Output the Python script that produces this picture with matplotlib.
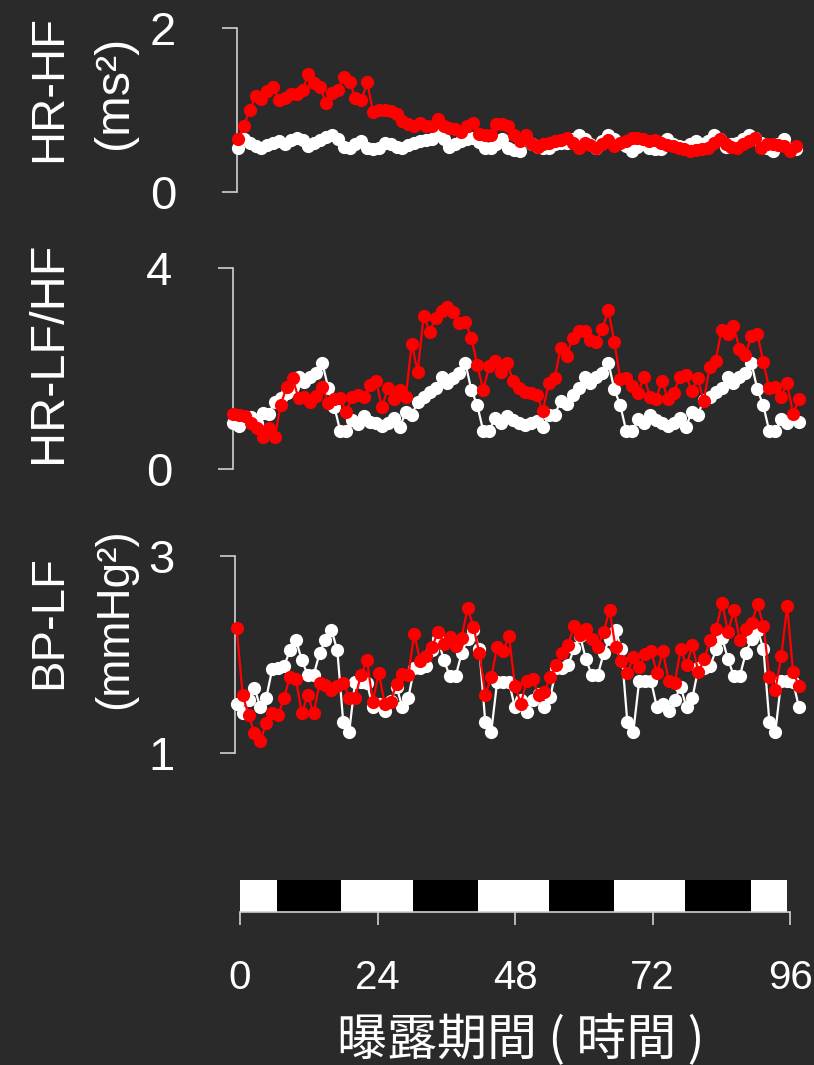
import matplotlib
matplotlib.use("Agg")
import matplotlib.pyplot as plt

# ---------------- data (hourly, 96 points each) ----------------
hrhf_white = [0.54, 0.64, 0.59, 0.56, 0.54, 0.57, 0.59, 0.62, 0.58, 0.63, 0.66, 0.63,
              0.56, 0.59, 0.63, 0.67, 0.70, 0.64, 0.55, 0.54, 0.58, 0.62, 0.54, 0.52,
              0.53, 0.60, 0.58, 0.55, 0.54, 0.57, 0.60, 0.62, 0.63, 0.64, 0.69, 0.64,
              0.55, 0.58, 0.62, 0.64, 0.66, 0.61, 0.54, 0.53, 0.58, 0.65, 0.53, 0.51,
              0.50, 0.64, 0.58, 0.55, 0.54, 0.54, 0.58, 0.60, 0.60, 0.64, 0.69, 0.65,
              0.58, 0.54, 0.62, 0.70, 0.65, 0.60, 0.56, 0.50, 0.55, 0.58, 0.54, 0.52,
              0.52, 0.64, 0.58, 0.56, 0.55, 0.58, 0.62, 0.58, 0.62, 0.69, 0.65, 0.55,
              0.58, 0.60, 0.65, 0.70, 0.66, 0.60, 0.54, 0.50, 0.58, 0.64, 0.52, 0.52]
hrhf_red = [0.64, 0.81, 1.00, 1.17, 1.14, 1.23, 1.28, 1.12, 1.15, 1.20, 1.19, 1.25,
            1.44, 1.33, 1.28, 1.08, 1.21, 1.25, 1.40, 1.34, 1.15, 1.12, 1.34, 0.97,
            1.00, 1.00, 0.99, 0.95, 0.87, 0.83, 0.80, 0.84, 0.81, 0.80, 0.89, 0.80,
            0.78, 0.77, 0.73, 0.80, 0.84, 0.71, 0.69, 0.69, 0.83, 0.83, 0.81, 0.69,
            0.62, 0.69, 0.58, 0.55, 0.58, 0.60, 0.62, 0.63, 0.66, 0.60, 0.54, 0.59,
            0.57, 0.54, 0.58, 0.63, 0.56, 0.59, 0.62, 0.66, 0.66, 0.64, 0.62, 0.63,
            0.60, 0.57, 0.56, 0.54, 0.52, 0.50, 0.51, 0.52, 0.54, 0.60, 0.64, 0.58,
            0.55, 0.53, 0.58, 0.62, 0.66, 0.54, 0.58, 0.58, 0.57, 0.56, 0.50, 0.56]

lfhf_white = [0.91, 0.86, 0.99, 1.04, 0.91, 1.11, 1.10, 1.34, 1.41, 1.51, 1.64, 1.84,
              1.74, 1.83, 1.91, 2.11, 1.61, 1.24, 0.76, 0.76, 0.98, 0.90, 1.06, 0.94,
              0.91, 0.86, 0.91, 1.01, 0.83, 1.14, 1.08, 1.34, 1.44, 1.54, 1.61, 1.83,
              1.72, 1.81, 1.91, 2.11, 1.58, 1.27, 0.76, 0.76, 1.01, 0.91, 1.06, 0.98,
              0.91, 0.88, 0.91, 0.96, 0.83, 1.08, 1.08, 1.36, 1.29, 1.47, 1.61, 1.84,
              1.72, 1.83, 1.91, 2.12, 1.59, 1.27, 0.76, 0.76, 0.99, 0.91, 1.08, 0.98,
              0.91, 0.86, 0.91, 1.01, 0.83, 1.14, 1.08, 1.37, 1.44, 1.54, 1.61, 1.84,
              1.71, 1.84, 1.91, 2.12, 1.59, 1.27, 0.76, 0.76, 0.99, 0.91, 1.01, 0.94]
lfhf_red = [1.10, 1.08, 1.06, 0.91, 0.81, 0.64, 0.81, 0.64, 1.27, 1.64, 1.81, 1.41,
            1.44, 1.34, 1.45, 1.64, 1.31, 1.39, 1.41, 1.14, 1.44, 1.47, 1.43, 1.67,
            1.76, 1.24, 1.61, 1.39, 1.57, 1.44, 2.50, 1.94, 3.05, 2.74, 3.00, 3.15,
            3.23, 3.13, 2.90, 2.93, 2.62, 2.07, 1.58, 2.05, 2.16, 1.94, 2.11, 1.76,
            1.61, 1.54, 1.52, 1.47, 1.16, 1.71, 1.81, 2.42, 2.25, 2.62, 2.76, 2.76,
            2.58, 2.54, 2.80, 3.17, 2.54, 1.79, 1.81, 1.65, 1.52, 1.84, 1.44, 1.39,
            1.76, 1.39, 1.52, 1.84, 1.87, 1.56, 1.81, 1.35, 2.03, 2.16, 2.77, 2.70,
            2.85, 2.40, 2.27, 2.65, 2.70, 2.14, 1.61, 1.64, 1.44, 1.71, 1.10, 1.39]

bplf_white = [1.50, 1.40, 1.54, 1.66, 1.46, 1.56, 1.85, 1.86, 1.88, 2.04, 2.15, 1.94,
              1.79, 1.79, 2.01, 2.15, 2.25, 2.04, 1.31, 1.21, 1.72, 1.72, 1.71, 1.46,
              1.50, 1.42, 1.53, 1.67, 1.46, 1.56, 1.86, 1.86, 1.88, 2.04, 2.16, 1.94,
              1.78, 1.78, 2.01, 2.16, 2.25, 2.05, 1.31, 1.21, 1.72, 1.72, 1.72, 1.46,
              1.54, 1.41, 1.54, 1.60, 1.46, 1.57, 1.86, 1.86, 1.89, 2.06, 2.19, 1.95,
              1.79, 1.79, 2.01, 2.16, 2.25, 2.05, 1.31, 1.21, 1.73, 1.73, 1.73, 1.46,
              1.50, 1.42, 1.54, 1.67, 1.46, 1.56, 1.86, 1.86, 1.88, 2.05, 2.17, 1.95,
              1.78, 1.78, 2.01, 2.16, 2.25, 2.05, 1.31, 1.21, 1.73, 1.73, 1.72, 1.46]
bplf_red = [2.27, 1.59, 1.38, 1.20, 1.12, 1.30, 1.40, 1.38, 1.56, 1.77, 1.75, 1.40,
            1.59, 1.40, 1.71, 1.69, 1.64, 1.68, 1.71, 1.56, 1.56, 1.79, 1.94, 1.52,
            1.81, 1.50, 1.52, 1.70, 1.80, 1.79, 2.21, 1.93, 1.98, 2.07, 2.23, 2.11,
            2.18, 2.08, 2.17, 2.47, 2.28, 2.01, 1.59, 1.77, 2.07, 2.03, 2.19, 1.68,
            1.50, 1.73, 1.75, 1.59, 1.62, 1.77, 1.89, 2.01, 2.10, 2.29, 2.20, 2.26,
            2.16, 2.07, 2.23, 2.45, 2.07, 1.93, 1.81, 1.97, 1.87, 2.00, 2.03, 1.81,
            2.03, 1.73, 1.71, 2.05, 1.89, 2.09, 1.82, 1.95, 2.15, 2.26, 2.52, 2.23,
            2.45, 2.15, 2.26, 2.32, 2.51, 2.29, 1.77, 1.64, 1.98, 2.49, 1.82, 1.68]

hour_ticks = [0, 24, 48, 72, 96]
light_dark_edges = [0, 6.5, 17.6, 30.2, 41.6, 54.0, 65.2, 77.7, 89.2, 95.4]
light_dark_colors = ["white", "black"]

ylabels_main = ["HR-HF", "HR-LF/HF", "BP-LF"]
ylabels_unit = ["(ms²)", "", "(mmHg²)"]
xlabel = "曝露期間 ( 時間 )"

# ---------------- style ----------------
BG = "#2a2a2a"
SPINE = "#d0d0d0"
RED = "#ff0000"
W, H = 814, 1065
plt.rcParams["font.family"] = ["Liberation Sans", "Noto Sans CJK TC", "DejaVu Sans"]
NARROW = ["Liberation Sans Narrow", "Liberation Sans", "DejaVu Sans"]

fig = plt.figure(figsize=(W / 100, H / 100), dpi=100, facecolor=BG)


def add_px_axes(left, top, right, bottom):
    return fig.add_axes([left / W, 1 - bottom / H, (right - left) / W, (bottom - top) / H])


panels = [
    dict(white=hrhf_white, red=hrhf_red, ylim=(0, 2), spine_x=236.7, top=28.3, bottom=191.7,
         x_first=238, x_last=796),
    dict(white=lfhf_white, red=lfhf_red, ylim=(0, 4), spine_x=232.7, top=268.3, bottom=469.0,
         x_first=233, x_last=799),
    dict(white=bplf_white, red=bplf_red, ylim=(1, 3), spine_x=234.7, top=556.0, bottom=752.7,
         x_first=236.7, x_last=799),
]

RIGHT = 806
for p in panels:
    ax = add_px_axes(p["spine_x"], p["top"], RIGHT, p["bottom"])
    n = len(p["white"])
    step = (p["x_last"] - p["x_first"]) / (n - 1)
    ax.set_xlim((p["spine_x"] - p["x_first"]) / step, (RIGHT - p["x_first"]) / step)
    ax.set_ylim(*p["ylim"])
    ax.patch.set_alpha(0)
    for s in ["top", "right", "bottom"]:
        ax.spines[s].set_visible(False)
    ax.spines["left"].set_color(SPINE)
    ax.spines["left"].set_linewidth(1.2)
    ax.set_xticks([])
    ax.set_yticks(list(p["ylim"]))
    ax.set_yticklabels([f"{v:g}" for v in p["ylim"]])
    ax.tick_params(axis="y", direction="out", length=10.5, width=1.2, color=SPINE,
                   labelcolor="white", labelsize=34, pad=33)
    ax.plot(range(len(p["white"])), p["white"], "-o", color="white", lw=1.6, ms=9.5,
            mew=0, clip_on=False, zorder=3)
    ax.plot(range(len(p["red"])), p["red"], "-o", color=RED, lw=1.6, ms=9.5,
            mew=0, clip_on=False, zorder=4)

# y labels (rotated, baseline anchored)
lab_kw = dict(rotation=90, rotation_mode="anchor", ha="center", va="baseline",
              color="white", family=NARROW)
fig.text(61 / W, 1 - 88 / H, ylabels_main[0], fontsize=34, **lab_kw)
fig.text(127 / W, 1 - 92 / H, ylabels_unit[0], fontsize=35, **lab_kw)
fig.text(61 / W, 1 - 352 / H, ylabels_main[1], fontsize=35, **lab_kw)
fig.text(61 / W, 1 - 622 / H, ylabels_main[2], fontsize=34, **lab_kw)
fig.text(127 / W, 1 - 619 / H, ylabels_unit[2], fontsize=33, **lab_kw)

# light/dark bar + time axis
axb = add_px_axes(240, 880, 790, 912)
axb.set_xlim(0, 96)
axb.set_ylim(0, 1)
axb.patch.set_alpha(0)
for i in range(len(light_dark_edges) - 1):
    x0, x1 = light_dark_edges[i], light_dark_edges[i + 1]
    axb.broken_barh([(x0, x1 - x0)], (0, 1), facecolors=light_dark_colors[i % 2],
                    edgecolor="none")
for s in ["top", "right", "left"]:
    axb.spines[s].set_visible(False)
axb.spines["bottom"].set_color(SPINE)
axb.spines["bottom"].set_linewidth(1.2)
axb.spines["bottom"].set_bounds(0, 96)
axb.set_yticks([])
axb.set_xticks(hour_ticks)
axb.set_xticklabels([str(t) for t in hour_ticks])
axb.tick_params(axis="x", direction="out", length=9.5, width=1.2, color=SPINE,
                labelcolor="white", labelsize=29, pad=24)

fig.text(521 / W, 1 - 1040 / H, xlabel, ha="center", va="center", color="white",
         fontsize=36, family=["Noto Sans CJK TC", "DejaVu Sans"])

fig.savefig("out.png", dpi=100, facecolor=BG)
